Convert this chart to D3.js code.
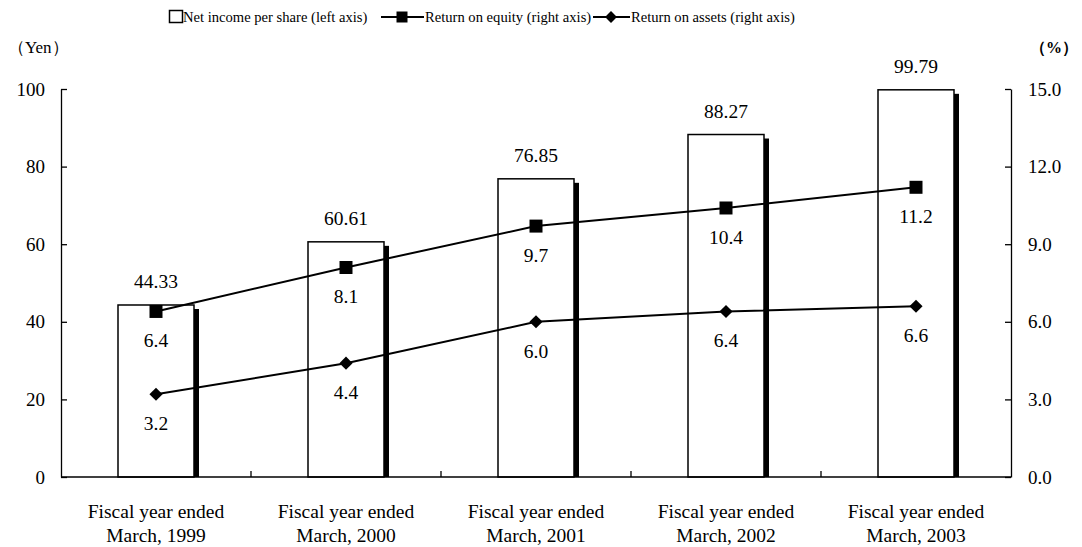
<!DOCTYPE html>
<html>
<head>
<meta charset="utf-8">
<script src="https://cdn.jsdelivr.net/npm/d3@7"></script>
<style>
  html, body { margin: 0; padding: 0; background: #fff; }
  svg text { font-family: "Times New Roman", "Liberation Serif", "DejaVu Serif", serif !important; fill: #000; }
</style>
</head>
<body>
<svg id="chart" width="1082" height="547"></svg>
<script>
// Fiscal years and indicators
const categories = [
  ["Fiscal year ended", "March, 1999"],
  ["Fiscal year ended", "March, 2000"],
  ["Fiscal year ended", "March, 2001"],
  ["Fiscal year ended", "March, 2002"],
  ["Fiscal year ended", "March, 2003"]
];
const netIncomePerShare = [44.33, 60.61, 76.85, 88.27, 99.79];   // yen, left axis
const returnOnEquity = [6.4, 8.1, 9.7, 10.4, 11.2];             // %, right axis
const returnOnAssets = [3.2, 4.4, 6.0, 6.4, 6.6];               // %, right axis
const leftTicks = [0, 20, 40, 60, 80, 100];
const rightTicks = [0, 3, 6, 9, 12, 15];

const svg = d3.select("#chart");
const m = { left: 61, right: 1011, top: 89, bottom: 477 };

const x = d3.scaleBand().domain(d3.range(categories.length)).range([m.left, m.right]);
const yL = d3.scaleLinear().domain([0, 100]).range([m.bottom, m.top]);
const yR = d3.scaleLinear().domain([0, 15]).range([m.bottom, m.top]);
const barW = x.bandwidth() * 0.4;
const cx = i => x(i) + x.bandwidth() / 2;

// Bars: black drop shadow, then white body with outline
const bars = svg.append("g");
netIncomePerShare.forEach((v, i) => {
  const bx = cx(i) - barW / 2, by = yL(v), bh = m.bottom - yL(v);
  bars.append("rect").attr("x", bx + 5).attr("y", by + 4).attr("width", barW).attr("height", bh - 4).attr("fill", "#000");
  bars.append("rect").attr("x", bx).attr("y", by).attr("width", barW).attr("height", bh)
    .attr("fill", "#fff").attr("stroke", "#000").attr("stroke-width", 1.5);
  bars.append("text").attr("x", cx(i)).attr("y", by - 17)
    .attr("text-anchor", "middle").attr("font-size", 19.5).text(v.toFixed(2));
});

// Axes
const axL = d3.axisLeft(yL).tickValues(leftTicks).tickSizeInner(-6).tickSizeOuter(0).tickPadding(16).tickFormat(d3.format("d"));
const gL = svg.append("g").attr("transform", `translate(${m.left},0)`).call(axL);
const axR = d3.axisRight(yR).tickValues(rightTicks).tickSizeInner(-6).tickSizeOuter(0).tickPadding(17).tickFormat(d3.format(".1f"));
const gR = svg.append("g").attr("transform", `translate(${m.right},0)`).call(axR);
[gL, gR].forEach(g => {
  g.attr("font-family", null).attr("font-size", null);
  g.select(".domain").attr("stroke", "#000").attr("stroke-width", 1.3);
  g.selectAll(".tick line").attr("stroke", "#000").attr("stroke-width", 1.3);
  g.selectAll(".tick text").attr("font-size", 19);
});

// Bottom axis line with category separators
const gB = svg.append("g");
gB.append("line").attr("x1", m.left).attr("x2", m.right).attr("y1", m.bottom).attr("y2", m.bottom)
  .attr("stroke", "#000").attr("stroke-width", 1.3);
d3.range(1, categories.length).forEach(i => {
  gB.append("line").attr("x1", x(i)).attr("x2", x(i)).attr("y1", m.bottom).attr("y2", m.bottom - 6)
    .attr("stroke", "#000").attr("stroke-width", 1.3);
});
categories.forEach((c, i) => {
  const t = gB.append("text").attr("text-anchor", "middle").attr("font-size", 19.5);
  t.append("tspan").attr("x", cx(i)).attr("y", 518).text(c[0]);
  t.append("tspan").attr("x", cx(i)).attr("y", 542).text(c[1]);
});

// Axis titles
svg.append("text").attr("x", 8).attr("y", 53).attr("font-size", 17).text("（Yen）");
svg.append("text").attr("x", 1078).attr("y", 53).attr("text-anchor", "end").attr("font-size", 16).attr("font-weight", "bold").text("（%）");

// Lines
const line = d3.line().x((d, i) => cx(i)).y(d => yR(d));
const sq = d3.symbol().type(d3.symbolSquare).size(169);
const dia = d3.symbol().type(d3.symbolDiamond2 || d3.symbolDiamond).size(110);

function drawSeries(vals, sym, labelOff) {
  const g = svg.append("g");
  g.append("path").datum(vals).attr("d", line).attr("fill", "none").attr("stroke", "#000").attr("stroke-width", 2);
  vals.forEach((v, i) => {
    g.append("path").attr("d", sym()).attr("transform", `translate(${cx(i)},${yR(v)})`).attr("fill", "#000");
    g.append("text").attr("x", cx(i)).attr("y", yR(v) + labelOff)
      .attr("text-anchor", "middle").attr("font-size", 19.5).text(v.toFixed(1));
  });
}
drawSeries(returnOnEquity, sq, 36);
drawSeries(returnOnAssets, dia, 36);

// Legend
const lg = svg.append("g").attr("font-size", 14.6);
lg.append("rect").attr("x", 169.5).attr("y", 10.5).attr("width", 13).attr("height", 12).attr("fill", "#fff").attr("stroke", "#000").attr("stroke-width", 1.5);
lg.append("text").attr("x", 183).attr("y", 22).text("Net income per share (left axis)");
lg.append("line").attr("x1", 381).attr("x2", 424).attr("y1", 17).attr("y2", 17).attr("stroke", "#000").attr("stroke-width", 2);
lg.append("path").attr("d", d3.symbol().type(d3.symbolSquare).size(121)()).attr("transform", "translate(402,17)");
lg.append("text").attr("x", 425).attr("y", 22).text("Return on equity (right axis)");
lg.append("line").attr("x1", 593).attr("x2", 630).attr("y1", 17).attr("y2", 17).attr("stroke", "#000").attr("stroke-width", 2);
lg.append("path").attr("d", d3.symbol().type(d3.symbolDiamond2 || d3.symbolDiamond).size(90)()).attr("transform", "translate(611,17)");
lg.append("text").attr("x", 631).attr("y", 22).text("Return on assets (right axis)");
</script>
</body>
</html>
